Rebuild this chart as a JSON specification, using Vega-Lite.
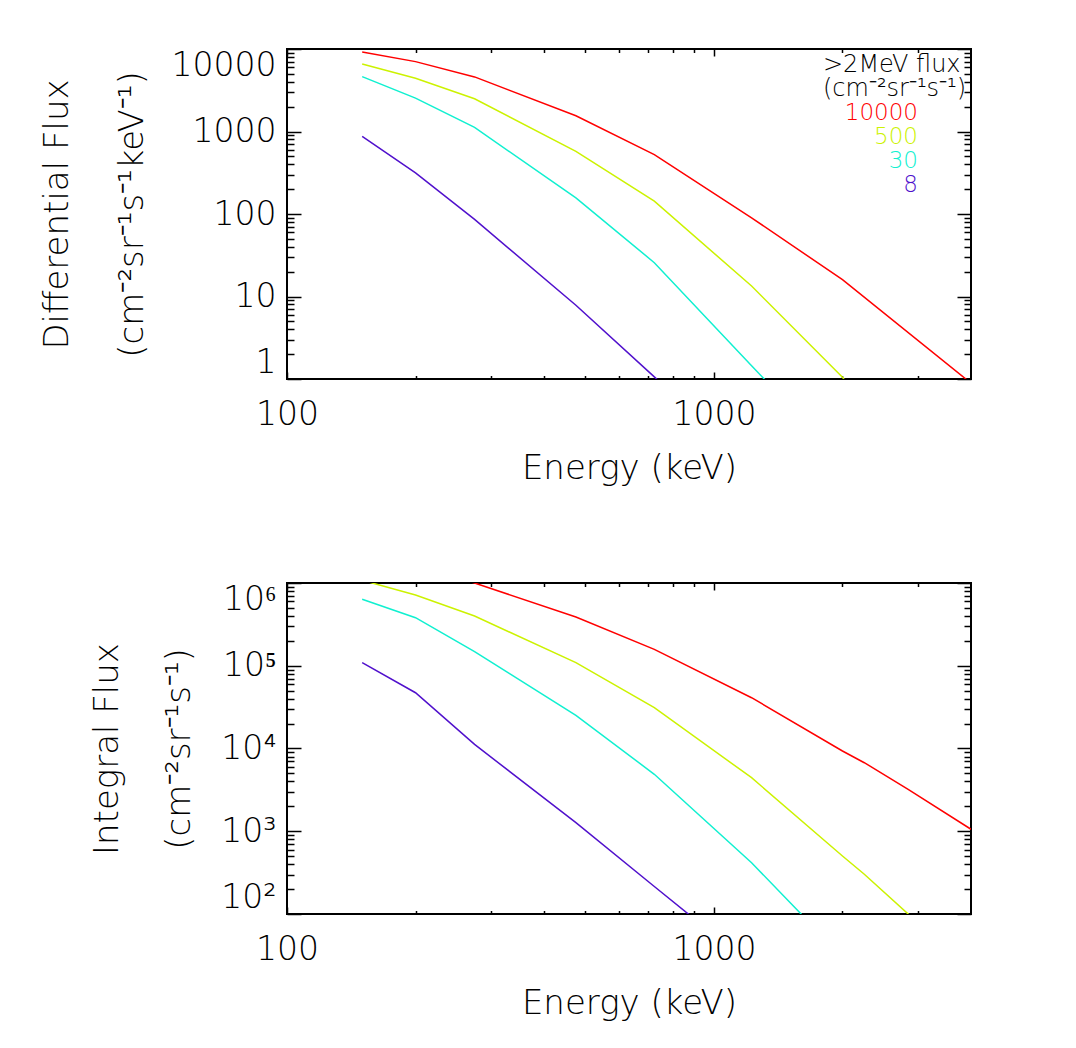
{
  "$schema": "https://vega.github.io/schema/vega-lite/v6.json",
  "background": "white",
  "padding": {"left": 39, "top": 47, "right": 0, "bottom": 0},
  "datasets": {
    "diff": [
      {"s": "10000", "E": 150, "flux": 9200}, {"s": "10000", "E": 200, "flux": 7030}, {"s": "10000", "E": 275, "flux": 4590}, {"s": "10000", "E": 475, "flux": 1550}, {"s": "10000", "E": 725, "flux": 524}, {"s": "10000", "E": 1225, "flux": 90}, {"s": "10000", "E": 2000, "flux": 16}, {"s": "10000", "E": 4000, "flux": 0.89},
      {"s": "500", "E": 150, "flux": 6590}, {"s": "500", "E": 200, "flux": 4430}, {"s": "500", "E": 275, "flux": 2490}, {"s": "500", "E": 475, "flux": 574}, {"s": "500", "E": 725, "flux": 143}, {"s": "500", "E": 1225, "flux": 13.4}, {"s": "500", "E": 2000, "flux": 1.05}, {"s": "500", "E": 4000, "flux": 0.01},
      {"s": "30", "E": 150, "flux": 4620}, {"s": "30", "E": 200, "flux": 2540}, {"s": "30", "E": 275, "flux": 1120}, {"s": "30", "E": 475, "flux": 157}, {"s": "30", "E": 725, "flux": 25.7}, {"s": "30", "E": 1225, "flux": 1.45}, {"s": "30", "E": 2000, "flux": 0.1},
      {"s": "8", "E": 150, "flux": 871}, {"s": "8", "E": 200, "flux": 315}, {"s": "8", "E": 275, "flux": 85.9}, {"s": "8", "E": 475, "flux": 7.84}, {"s": "8", "E": 725, "flux": 1.06}, {"s": "8", "E": 1225, "flux": 0.085}
    ],
    "integ": [
      {"s": "10000", "E": 150, "flux": 2300000}, {"s": "10000", "E": 200, "flux": 1600000}, {"s": "10000", "E": 275, "flux": 1000000}, {"s": "10000", "E": 475, "flux": 388000}, {"s": "10000", "E": 725, "flux": 158000}, {"s": "10000", "E": 1225, "flux": 41100}, {"s": "10000", "E": 2000, "flux": 9330}, {"s": "10000", "E": 2250, "flux": 6730}, {"s": "10000", "E": 2850, "flux": 3210}, {"s": "10000", "E": 4000, "flux": 1057},
      {"s": "500", "E": 150, "flux": 1080000}, {"s": "500", "E": 200, "flux": 716000}, {"s": "500", "E": 275, "flux": 399000}, {"s": "500", "E": 475, "flux": 109000}, {"s": "500", "E": 725, "flux": 31100}, {"s": "500", "E": 1225, "flux": 4440}, {"s": "500", "E": 2000, "flux": 502}, {"s": "500", "E": 2250, "flux": 302}, {"s": "500", "E": 2850, "flux": 100}, {"s": "500", "E": 4000, "flux": 5},
      {"s": "30", "E": 150, "flux": 635000}, {"s": "30", "E": 200, "flux": 381000}, {"s": "30", "E": 275, "flux": 148000}, {"s": "30", "E": 475, "flux": 25100}, {"s": "30", "E": 725, "flux": 4880}, {"s": "30", "E": 1225, "flux": 417}, {"s": "30", "E": 1600, "flux": 100}, {"s": "30", "E": 2000, "flux": 20},
      {"s": "8", "E": 150, "flux": 109000}, {"s": "8", "E": 200, "flux": 47200}, {"s": "8", "E": 275, "flux": 11200}, {"s": "8", "E": 475, "flux": 1270}, {"s": "8", "E": 725, "flux": 215}, {"s": "8", "E": 1225, "flux": 24}
    ]
  },
  "vconcat": [
    {
      "width": 684,
      "height": 330,
      "data": {"name": "diff"},
      "layer": [
        {
          "mark": {"type": "line", "clip": true, "strokeWidth": 1.5},
          "encoding": {
            "x": {"field": "E", "type": "quantitative", "scale": {"type": "log", "domain": [100, 4000], "nice": false},
              "axis": {"orient": "bottom", "values": [100, 1000], "format": "d", "tickSize": -7, "labelPadding": 26, "labelFlush": false, "title": "Energy (keV)", "titlePadding": 20}},
            "y": {"field": "flux", "type": "quantitative", "scale": {"type": "log", "domain": [1, 10000], "nice": false},
              "axis": {"orient": "left", "values": [1, 10, 100, 1000, 10000], "format": "d", "tickSize": -14, "labelPadding": 25, "labelFlush": true, "title": ["Differential Flux", "(cm⁻²sr⁻¹s⁻¹keV⁻¹)"], "titleLineHeight": 75, "titlePadding": 22}},
            "color": {"field": "s", "type": "nominal",
              "scale": {"domain": ["10000", "500", "30", "8"], "range": ["#ff0000", "#ccf200", "#10f0d0", "#5010cc"]},
              "legend": {"orient": "top-right", "offset": 4, "padding": 0,
                "title": [">2MeV flux", "(cm⁻²sr⁻¹s⁻¹)"], "titleFont": "DejaVu Sans", "titleFontSize": 24, "titleFontWeight": 200, "titleColor": "black", "titleLineHeight": 24, "titlePadding": 0, "titleAlign": "left",
                "labelFont": "DejaVu Sans", "labelFontSize": 23, "labelAlign": "right", "labelOffset": 72, "symbolSize": 0, "symbolOpacity": 0, "symbolStrokeWidth": 0, "rowPadding": 0,
                "labelColor": {"expr": "datum.label == '10000' ? '#ff0000' : datum.label == '500' ? '#ccf200' : datum.label == '30' ? '#10f0d0' : '#5010cc'"}}}
          }
        },
        {
          "mark": {"type": "line", "opacity": 0},
          "encoding": {
            "x": {"field": "E", "type": "quantitative", "axis": {"orient": "bottom", "values": [200, 300, 400, 500, 600, 700, 800, 900, 2000, 3000], "tickSize": -3.5, "labels": false, "title": null}},
            "y": {"field": "flux", "type": "quantitative", "axis": {"orient": "left", "values": [2,3,4,5,6,7,8,9,20,30,40,50,60,70,80,90,200,300,400,500,600,700,800,900,2000,3000,4000,5000,6000,7000,8000,9000], "tickSize": -7, "labels": false, "title": null}},
            "detail": {"field": "s"}
          }
        },
        {
          "mark": {"type": "line", "opacity": 0},
          "encoding": {
            "x": {"field": "E", "type": "quantitative", "axis": {"orient": "top", "values": [100, 1000], "tickSize": -7, "labels": false, "title": null}},
            "y": {"field": "flux", "type": "quantitative", "axis": {"orient": "right", "values": [1, 10, 100, 1000, 10000], "tickSize": -14, "labels": false, "title": null}},
            "detail": {"field": "s"}
          }
        },
        {
          "mark": {"type": "line", "opacity": 0},
          "encoding": {
            "x": {"field": "E", "type": "quantitative", "axis": {"orient": "top", "values": [200, 300, 400, 500, 600, 700, 800, 900, 2000, 3000], "tickSize": -3.5, "labels": false, "title": null}},
            "y": {"field": "flux", "type": "quantitative", "axis": {"orient": "right", "values": [2,3,4,5,6,7,8,9,20,30,40,50,60,70,80,90,200,300,400,500,600,700,800,900,2000,3000,4000,5000,6000,7000,8000,9000], "tickSize": -7, "labels": false, "title": null}},
            "detail": {"field": "s"}
          }
        }
      ],
      "resolve": {"axis": {"x": "independent", "y": "independent"}}
    },
    {
      "width": 684,
      "height": 331,
      "data": {"name": "integ"},
      "layer": [
        {
          "mark": {"type": "line", "clip": true, "strokeWidth": 1.5},
          "encoding": {
            "x": {"field": "E", "type": "quantitative", "scale": {"type": "log", "domain": [100, 4000], "nice": false},
              "axis": {"orient": "bottom", "values": [100, 1000], "format": "d", "tickSize": -7, "labelPadding": 26, "labelFlush": false, "title": "Energy (keV)", "titlePadding": 20}},
            "y": {"field": "flux", "type": "quantitative", "scale": {"type": "log", "domain": [100, 1000000], "nice": false},
              "axis": {"orient": "left", "values": [100, 1000, 10000, 100000, 1000000], "labelExpr": "'10' + ['⁰','¹','²','³','⁴','⁵','⁶'][round(log(datum.value)/LN10)]", "tickSize": -14, "labelPadding": 25, "labelFlush": true, "title": ["Integral Flux", "(cm⁻²sr⁻¹s⁻¹)"], "titleLineHeight": 72, "titlePadding": 24}},
            "color": {"field": "s", "type": "nominal",
              "scale": {"domain": ["10000", "500", "30", "8"], "range": ["#ff0000", "#ccf200", "#10f0d0", "#5010cc"]},
              "legend": null}
          }
        },
        {
          "mark": {"type": "line", "opacity": 0},
          "encoding": {
            "x": {"field": "E", "type": "quantitative", "axis": {"orient": "bottom", "values": [200, 300, 400, 500, 600, 700, 800, 900, 2000, 3000], "tickSize": -3.5, "labels": false, "title": null}},
            "y": {"field": "flux", "type": "quantitative", "axis": {"orient": "left", "values": [200,300,400,500,600,700,800,900,2000,3000,4000,5000,6000,7000,8000,9000,20000,30000,40000,50000,60000,70000,80000,90000,200000,300000,400000,500000,600000,700000,800000,900000], "tickSize": -7, "labels": false, "title": null}},
            "detail": {"field": "s"}
          }
        },
        {
          "mark": {"type": "line", "opacity": 0},
          "encoding": {
            "x": {"field": "E", "type": "quantitative", "axis": {"orient": "top", "values": [100, 1000], "tickSize": -7, "labels": false, "title": null}},
            "y": {"field": "flux", "type": "quantitative", "axis": {"orient": "right", "values": [100, 1000, 10000, 100000, 1000000], "tickSize": -14, "labels": false, "title": null}},
            "detail": {"field": "s"}
          }
        },
        {
          "mark": {"type": "line", "opacity": 0},
          "encoding": {
            "x": {"field": "E", "type": "quantitative", "axis": {"orient": "top", "values": [200, 300, 400, 500, 600, 700, 800, 900, 2000, 3000], "tickSize": -3.5, "labels": false, "title": null}},
            "y": {"field": "flux", "type": "quantitative", "axis": {"orient": "right", "values": [200,300,400,500,600,700,800,900,2000,3000,4000,5000,6000,7000,8000,9000,20000,30000,40000,50000,60000,70000,80000,90000,200000,300000,400000,500000,600000,700000,800000,900000], "tickSize": -7, "labels": false, "title": null}},
            "detail": {"field": "s"}
          }
        }
      ],
      "resolve": {"axis": {"x": "independent", "y": "independent"}}
    }
  ],
  "spacing": 7,
  "resolve": {"scale": {"x": "independent", "y": "independent", "color": "independent"}, "legend": {"color": "independent"}},
  "config": {
    "view": {"stroke": "black", "strokeWidth": 2},
    "axis": {
      "domain": false, "grid": false, "tickColor": "black", "tickWidth": 1.5,
      "labelFont": "DejaVu Sans", "labelFontSize": 33, "labelFontWeight": 200, "labelColor": "black",
      "titleFont": "DejaVu Sans", "titleFontSize": 34, "titleFontWeight": 200, "titleColor": "black"
    },
    "legend": {"labelFontWeight": 200, "titleFontWeight": 200}
  }
}
